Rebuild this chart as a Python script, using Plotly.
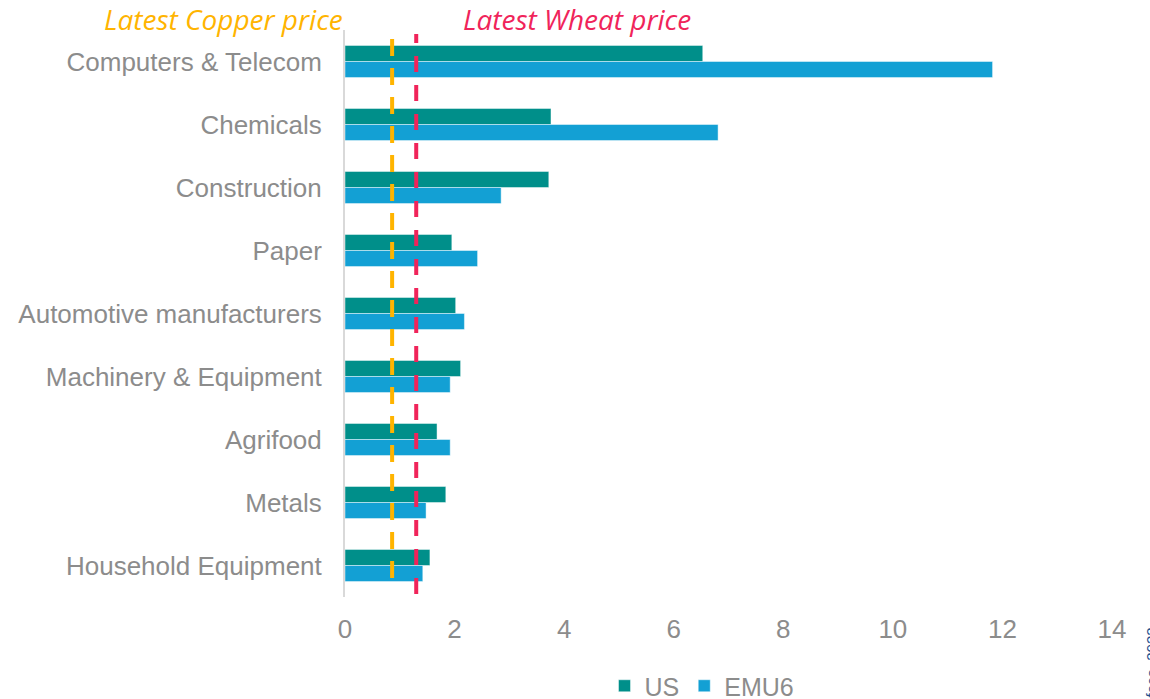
import plotly.graph_objects as go

categories = ["Computers & Telecom", "Chemicals", "Construction", "Paper",
              "Automotive manufacturers", "Machinery & Equipment", "Agrifood",
              "Metals", "Household Equipment"]
us_values = [6.53, 3.76, 3.72, 1.95, 2.02, 2.11, 1.68, 1.84, 1.55]
emu6_values = [11.82, 6.81, 2.85, 2.42, 2.18, 1.92, 1.92, 1.48, 1.42]
copper_price = 0.86
wheat_price = 1.30
x_ticks = [0, 2, 4, 6, 8, 10, 12, 14]

L, R, T, B = 345, 38, 30, 102
W, H = 1150, 699
pw = W - L - R
ph = H - T - B

def px(xp):
    return (xp - L) / pw

def py(yp):
    return (H - B - yp) / ph

GRAY = "#8C8C8C"

fig = go.Figure()
fig.add_trace(go.Bar(y=categories, x=us_values, name="US", orientation="h",
                     marker=dict(color="#008F8A", line=dict(color="rgba(255,255,255,0.45)", width=1))))
fig.add_trace(go.Bar(y=categories, x=emu6_values, name="EMU6", orientation="h",
                     marker=dict(color="#13A0D4", line=dict(color="rgba(255,255,255,0.45)", width=1))))

fig.add_shape(type="line", xref="x", yref="paper", x0=copper_price, x1=copper_price,
              y0=py(578), y1=py(37), line=dict(color="#FFB400", width=4, dash="17px,12px"), layer="above")
fig.add_shape(type="line", xref="x", yref="paper", x0=wheat_price, x1=wheat_price,
              y0=py(594), y1=py(34), line=dict(color="#F0245A", width=4, dash="16px,13px"), layer="above")

fig.add_annotation(text="Latest Copper price", xref="paper", yref="paper", x=px(223), y=py(19),
                   showarrow=False, xanchor="center", yanchor="middle",
                   font=dict(family="Open Sans", size=28, color="#FFB400", style="italic"))
fig.add_annotation(text="Latest Wheat price", xref="paper", yref="paper", x=px(577), y=py(19),
                   showarrow=False, xanchor="center", yanchor="middle",
                   font=dict(family="Open Sans", size=28, color="#F0245A", style="italic"))
fig.add_annotation(text="Source: Coface, 2022", xref="paper", yref="paper", x=px(1151), y=py(626),
                   showarrow=False, xanchor="center", yanchor="top", textangle=-90,
                   font=dict(family="Liberation Sans", size=15, color="#1F4E8C"))

fig.update_layout(
    width=W, height=H,
    margin=dict(l=L, r=R, t=T, b=B, autoexpand=False),
    paper_bgcolor="white", plot_bgcolor="white",
    barmode="group", bargap=0.49, bargroupgap=0,
    font=dict(family="Liberation Sans", size=26, color=GRAY),
    showlegend=True,
    legend=dict(orientation="h", x=px(702), y=py(686), xanchor="center", yanchor="middle",
                font=dict(size=25, color=GRAY), itemwidth=30, traceorder="normal"),
    xaxis=dict(range=[0, 14], tickvals=x_ticks, showgrid=False, zeroline=False,
               showline=False, ticks="", ticklabelstandoff=14,
               tickfont=dict(size=26, color=GRAY)),
    yaxis=dict(autorange="reversed", showgrid=False, zeroline=False, showline=True,
               linecolor="#D9D9D9", linewidth=2, ticks="", ticklabelstandoff=16,
               tickfont=dict(size=26, color=GRAY)),
)

fig.write_html("out.html", config={"displayModeBar": False},
               post_script="document.body.style.margin='0';document.body.style.overflow='hidden';")
